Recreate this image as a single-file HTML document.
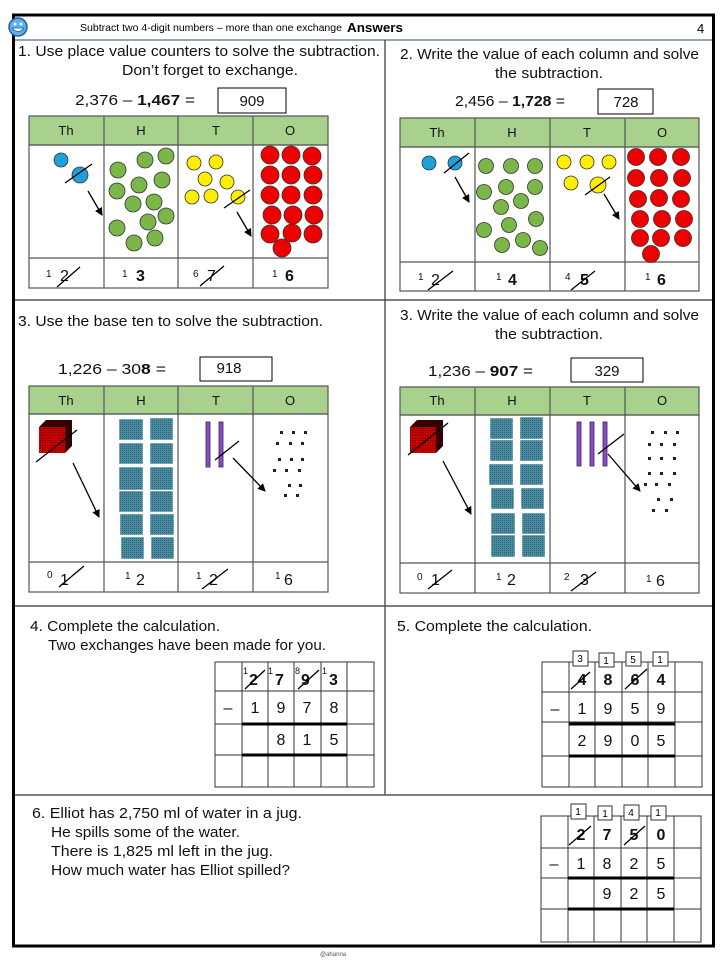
<!DOCTYPE html>
<html><head><meta charset="utf-8">
<style>
html,body{margin:0;padding:0;background:#fff;}
svg{display:block;font-family:"Liberation Sans",sans-serif;}
.t{font-size:15px;fill:#111;}
.h{font-size:13px;fill:#111;}
.n{font-size:15px;fill:#111;}
.g{font-size:16px;fill:#111;}
</style></head><body>
<svg width="720" height="960" viewBox="0 0 720 960" xmlns="http://www.w3.org/2000/svg">
<defs>
<marker id="ar" markerWidth="8" markerHeight="8" refX="7" refY="4" orient="auto" markerUnits="userSpaceOnUse"><path d="M0,0 L8,4 L0,8 z" fill="#000"/></marker>
<pattern id="grid" width="2" height="2" patternUnits="userSpaceOnUse"><rect width="2" height="2" fill="#4a8aa0"/><rect width="1" height="1" fill="#2e6478"/></pattern>
<pattern id="rgrid" width="2.5" height="2.5" patternUnits="userSpaceOnUse"><rect width="2.5" height="2.5" fill="#c00"/><rect width="1" height="1" fill="#400"/></pattern>
</defs>
<rect x="13.5" y="15" width="700" height="931" fill="none" stroke="#000" stroke-width="3"/>
<line x1="15" y1="40" x2="712" y2="40" stroke="#2c4a6a" stroke-width="1"/>
<line x1="385" y1="40" x2="385" y2="795" stroke="#333" stroke-width="1.2"/>
<line x1="15" y1="300" x2="712" y2="300" stroke="#333" stroke-width="1.2"/>
<line x1="15" y1="606" x2="712" y2="606" stroke="#555" stroke-width="1.5"/>
<line x1="15" y1="795" x2="712" y2="795" stroke="#555" stroke-width="1.5"/>
<circle cx="18" cy="27" r="9" fill="#5ab0e8" stroke="#1f5f9f" stroke-width="1.5"/>
<circle cx="15" cy="24" r="1.5" fill="#fff"/><circle cx="21" cy="24" r="1.5" fill="#fff"/>
<path d="M12,28 Q18,35 24,28 Z" fill="#fff" stroke="#1f5f9f" stroke-width="0.8"/>
<text x="80" y="31" style="font-size:10px" textLength="262" lengthAdjust="spacingAndGlyphs">Subtract two 4-digit numbers – more than one exchange</text>
<text x="347" y="32" style="font-size:12.5px;font-weight:bold" textLength="56" lengthAdjust="spacingAndGlyphs">Answers</text>
<text x="697" y="33" style="font-size:13px">4</text>

<!-- Q1 -->
<text x="18" y="56" class="t" textLength="362" lengthAdjust="spacingAndGlyphs">1.  Use place value counters to solve the subtraction.</text>
<text x="122" y="75" class="t" textLength="176" lengthAdjust="spacingAndGlyphs">Don’t forget to exchange.</text>
<text x="75" y="105" class="n" textLength="120" lengthAdjust="spacingAndGlyphs">2,376 – <tspan font-weight="bold">1,467</tspan> =</text>
<rect x="218" y="88" width="68" height="25" fill="#fff" stroke="#000"/>
<text x="252" y="106" class="n" text-anchor="middle">909</text>
<g stroke="#555" stroke-width="1.2">
<rect x="29" y="116" width="299" height="29" fill="#a9d18e"/>
<rect x="29" y="145" width="299" height="143" fill="none"/>
<line x1="29" y1="258" x2="328" y2="258"/>
<line x1="104" y1="116" x2="104" y2="288"/><line x1="178" y1="116" x2="178" y2="288"/><line x1="253" y1="116" x2="253" y2="288"/>
</g>
<g class="h" text-anchor="middle"><text x="66" y="135">Th</text><text x="141" y="135">H</text><text x="216" y="135">T</text><text x="290" y="135">O</text></g>
<g stroke="#333" stroke-width="0.8">
<circle cx="61" cy="160" r="7" fill="#1ea0dc"/><circle cx="80" cy="175" r="8" fill="#1ea0dc"/>
<g fill="#7ab648">
<circle cx="118" cy="170" r="8"/><circle cx="145" cy="160" r="8"/><circle cx="166" cy="156" r="8"/><circle cx="117" cy="191" r="8"/><circle cx="139" cy="185" r="8"/><circle cx="162" cy="180" r="8"/><circle cx="133" cy="204" r="8"/><circle cx="154" cy="202" r="8"/><circle cx="166" cy="216" r="8"/><circle cx="148" cy="222" r="8"/><circle cx="117" cy="228" r="8"/><circle cx="155" cy="238" r="8"/><circle cx="134" cy="243" r="8"/>
</g>
<g fill="#ffee00">
<circle cx="194" cy="163" r="7"/><circle cx="216" cy="162" r="7"/><circle cx="205" cy="179" r="7"/><circle cx="227" cy="182" r="7"/><circle cx="192" cy="197" r="7"/><circle cx="211" cy="196" r="7"/><circle cx="238" cy="197" r="7"/>
</g>
<g fill="#ee0000">
<circle cx="270" cy="155" r="9"/><circle cx="291" cy="155" r="9"/><circle cx="312" cy="156" r="9"/>
<circle cx="270" cy="175" r="9"/><circle cx="291" cy="175" r="9"/><circle cx="313" cy="175" r="9"/>
<circle cx="270" cy="195" r="9"/><circle cx="291" cy="195" r="9"/><circle cx="313" cy="195" r="9"/>
<circle cx="272" cy="215" r="9"/><circle cx="293" cy="215" r="9"/><circle cx="314" cy="215" r="9"/>
<circle cx="270" cy="234" r="9"/><circle cx="292" cy="233" r="9"/><circle cx="313" cy="234" r="9"/>
<circle cx="282" cy="248" r="9"/>
</g>
</g>
<g stroke="#000" stroke-width="1.3">
<line x1="65" y1="183" x2="92" y2="164"/><line x1="224" y1="208" x2="250" y2="190"/>
<line x1="88" y1="191" x2="102" y2="215" marker-end="url(#ar)"/>
<line x1="237" y1="212" x2="251" y2="236" marker-end="url(#ar)"/>
</g>
<g class="g"><text x="46" y="277" font-size="10">1</text><text x="60" y="281">2</text><text x="122" y="277" font-size="10">1</text><text x="136" y="281" font-weight="bold">3</text><text x="193" y="277" font-size="10">6</text><text x="207" y="281">7</text><text x="272" y="277" font-size="10">1</text><text x="285" y="281" font-weight="bold">6</text></g>
<g stroke="#000" stroke-width="1.3"><line x1="57" y1="287" x2="80" y2="267"/><line x1="200" y1="286" x2="224" y2="266"/></g>

<!-- Q2 -->
<text x="400" y="59" class="t" textLength="299" lengthAdjust="spacingAndGlyphs">2. Write the value of each column and solve</text>
<text x="495" y="78" class="t" textLength="108" lengthAdjust="spacingAndGlyphs">the subtraction.</text>
<text x="455" y="106" class="n" textLength="110" lengthAdjust="spacingAndGlyphs">2,456 – <tspan font-weight="bold">1,728</tspan> =</text>
<rect x="598" y="89" width="55" height="25" fill="#fff" stroke="#000"/>
<text x="626" y="107" class="n" text-anchor="middle">728</text>
<g stroke="#555" stroke-width="1.2">
<rect x="400" y="118" width="299" height="29" fill="#a9d18e"/>
<rect x="400" y="147" width="299" height="144" fill="none"/>
<line x1="400" y1="262" x2="699" y2="262"/>
<line x1="475" y1="118" x2="475" y2="291"/><line x1="550" y1="118" x2="550" y2="291"/><line x1="625" y1="118" x2="625" y2="291"/>
</g>
<g class="h" text-anchor="middle"><text x="437" y="137">Th</text><text x="512" y="137">H</text><text x="587" y="137">T</text><text x="662" y="137">O</text></g>
<g stroke="#333" stroke-width="0.8">
<circle cx="429" cy="163" r="7" fill="#1ea0dc"/><circle cx="455" cy="163" r="7" fill="#1ea0dc"/>
<g fill="#7ab648">
<circle cx="486" cy="166" r="7.5"/><circle cx="511" cy="166" r="7.5"/><circle cx="535" cy="166" r="7.5"/><circle cx="484" cy="192" r="7.5"/><circle cx="506" cy="187" r="7.5"/><circle cx="535" cy="187" r="7.5"/><circle cx="501" cy="207" r="7.5"/><circle cx="521" cy="201" r="7.5"/><circle cx="484" cy="230" r="7.5"/><circle cx="509" cy="225" r="7.5"/><circle cx="536" cy="219" r="7.5"/><circle cx="502" cy="245" r="7.5"/><circle cx="523" cy="240" r="7.5"/><circle cx="540" cy="248" r="7.5"/>
</g>
<g fill="#ffee00">
<circle cx="564" cy="162" r="7"/><circle cx="587" cy="162" r="7"/><circle cx="609" cy="162" r="7"/><circle cx="571" cy="183" r="7"/><circle cx="598" cy="185" r="8"/>
</g>
<g fill="#ee0000">
<circle cx="636" cy="157" r="8.5"/><circle cx="658" cy="157" r="8.5"/><circle cx="681" cy="157" r="8.5"/>
<circle cx="636" cy="178" r="8.5"/><circle cx="659" cy="178" r="8.5"/><circle cx="682" cy="178" r="8.5"/>
<circle cx="638" cy="199" r="8.5"/><circle cx="659" cy="198" r="8.5"/><circle cx="681" cy="199" r="8.5"/>
<circle cx="640" cy="219" r="8.5"/><circle cx="662" cy="219" r="8.5"/><circle cx="684" cy="219" r="8.5"/>
<circle cx="640" cy="238" r="8.5"/><circle cx="661" cy="238" r="8.5"/><circle cx="683" cy="238" r="8.5"/>
<circle cx="651" cy="254" r="8.5"/>
</g>
</g>
<g stroke="#000" stroke-width="1.3">
<line x1="444" y1="173" x2="469" y2="153"/><line x1="585" y1="195" x2="610" y2="177"/>
<line x1="455" y1="177" x2="469" y2="202" marker-end="url(#ar)"/>
<line x1="604" y1="194" x2="619" y2="219" marker-end="url(#ar)"/>
</g>
<g class="g"><text x="418" y="280" font-size="10">1</text><text x="431" y="285">2</text><text x="496" y="280" font-size="10">1</text><text x="508" y="285" font-weight="bold">4</text><text x="565" y="280" font-size="10">4</text><text x="580" y="285" font-weight="bold">5</text><text x="645" y="280" font-size="10">1</text><text x="657" y="285" font-weight="bold">6</text></g>
<g stroke="#000" stroke-width="1.3"><line x1="428" y1="290" x2="453" y2="271"/><line x1="571" y1="290" x2="595" y2="271"/></g>

<!-- Q3 left -->
<text x="18" y="326" class="t" textLength="305" lengthAdjust="spacingAndGlyphs">3. Use the base ten to solve the subtraction.</text>
<text x="58" y="374" class="n" textLength="108" lengthAdjust="spacingAndGlyphs">1,226 –  30<tspan font-weight="bold">8</tspan> =</text>
<rect x="200" y="357" width="72" height="24" fill="#fff" stroke="#000"/>
<text x="229" y="373" class="n" text-anchor="middle">918</text>
<g stroke="#555" stroke-width="1.2">
<rect x="29" y="386" width="299" height="28" fill="#a9d18e"/>
<rect x="29" y="414" width="299" height="178" fill="none"/>
<line x1="29" y1="562" x2="328" y2="562"/>
<line x1="104" y1="386" x2="104" y2="592"/><line x1="178" y1="386" x2="178" y2="592"/><line x1="253" y1="386" x2="253" y2="592"/>
</g>
<g class="h" text-anchor="middle"><text x="66" y="405">Th</text><text x="141" y="405">H</text><text x="216" y="405">T</text><text x="290" y="405">O</text></g>
<path d="M39,427 L46,420 L72,420 L72,446 L65,453 Z" fill="#300"/>
<rect x="39" y="427" width="26" height="26" fill="url(#rgrid)"/>
<g fill="url(#grid)" stroke="#fff" stroke-width="0.5">
<rect x="119" y="419" width="24" height="21"/><rect x="150" y="418" width="23" height="22"/>
<rect x="119" y="443" width="24" height="21"/><rect x="150" y="443" width="23" height="21"/>
<rect x="119" y="467" width="24" height="23"/><rect x="150" y="467" width="23" height="23"/>
<rect x="119" y="491" width="24" height="21"/><rect x="150" y="491" width="23" height="21"/>
<rect x="120" y="514" width="23" height="21"/><rect x="150" y="514" width="24" height="21"/>
<rect x="121" y="537" width="23" height="22"/><rect x="151" y="537" width="23" height="22"/>
</g>
<g fill="#8a4fc0" stroke="#3a1a60" stroke-width="0.8"><rect x="206" y="422" width="4" height="45"/><rect x="219" y="422" width="4" height="45"/></g>
<g fill="#222">
<rect x="280" y="431" width="3" height="3"/><rect x="292" y="431" width="3" height="3"/><rect x="304" y="431" width="3" height="3"/>
<rect x="276" y="442" width="3" height="3"/><rect x="289" y="442" width="3" height="3"/><rect x="301" y="442" width="3" height="3"/>
<rect x="278" y="458" width="3" height="3"/><rect x="290" y="458" width="3" height="3"/><rect x="301" y="458" width="3" height="3"/>
<rect x="273" y="469" width="3" height="3"/><rect x="285" y="469" width="3" height="3"/><rect x="298" y="469" width="3" height="3"/>
<rect x="288" y="484" width="3" height="3"/><rect x="299" y="484" width="3" height="3"/>
<rect x="284" y="494" width="3" height="3"/><rect x="296" y="494" width="3" height="3"/>
</g>
<g stroke="#000" stroke-width="1.3">
<line x1="36" y1="462" x2="77" y2="430"/><line x1="215" y1="460" x2="239" y2="441"/>
<line x1="73" y1="463" x2="99" y2="517" marker-end="url(#ar)"/>
<line x1="233" y1="458" x2="265" y2="491" marker-end="url(#ar)"/>
</g>
<g class="g"><text x="47" y="578" font-size="10">0</text><text x="60" y="585">1</text><text x="125" y="579" font-size="10">1</text><text x="136" y="585">2</text><text x="196" y="579" font-size="10">1</text><text x="209" y="585">2</text><text x="275" y="579" font-size="10">1</text><text x="284" y="585">6</text></g>
<g stroke="#000" stroke-width="1.3"><line x1="59" y1="587" x2="84" y2="566"/><line x1="202" y1="589" x2="228" y2="569"/></g>

<!-- Q3 right -->
<text x="400" y="320" class="t" textLength="299" lengthAdjust="spacingAndGlyphs">3. Write the value of each column and solve</text>
<text x="495" y="339" class="t" textLength="108" lengthAdjust="spacingAndGlyphs">the subtraction.</text>
<text x="428" y="376" class="n" textLength="105" lengthAdjust="spacingAndGlyphs">1,236 – <tspan font-weight="bold">907</tspan> =</text>
<rect x="571" y="358" width="72" height="24" fill="#fff" stroke="#000"/>
<text x="607" y="376" class="n" text-anchor="middle">329</text>
<g stroke="#555" stroke-width="1.2">
<rect x="400" y="387" width="299" height="28" fill="#a9d18e"/>
<rect x="400" y="415" width="299" height="178" fill="none"/>
<line x1="400" y1="563" x2="699" y2="563"/>
<line x1="475" y1="387" x2="475" y2="593"/><line x1="550" y1="387" x2="550" y2="593"/><line x1="625" y1="387" x2="625" y2="593"/>
</g>
<g class="h" text-anchor="middle"><text x="437" y="405">Th</text><text x="512" y="405">H</text><text x="587" y="405">T</text><text x="662" y="405">O</text></g>
<path d="M410,427 L417,420 L443,420 L443,446 L436,453 Z" fill="#300"/>
<rect x="410" y="427" width="26" height="26" fill="url(#rgrid)"/>
<g fill="url(#grid)" stroke="#fff" stroke-width="0.5">
<rect x="490" y="418" width="23" height="21"/><rect x="520" y="417" width="23" height="22"/>
<rect x="490" y="440" width="23" height="21"/><rect x="520" y="440" width="23" height="21"/>
<rect x="489" y="464" width="24" height="21"/><rect x="520" y="464" width="23" height="21"/>
<rect x="491" y="488" width="23" height="21"/><rect x="521" y="488" width="23" height="21"/>
<rect x="491" y="513" width="24" height="21"/><rect x="522" y="513" width="23" height="21"/>
<rect x="491" y="535" width="24" height="22"/><rect x="522" y="535" width="23" height="22"/>
</g>
<g fill="#8a4fc0" stroke="#3a1a60" stroke-width="0.8"><rect x="577" y="422" width="4" height="44"/><rect x="590" y="422" width="4" height="44"/><rect x="603" y="422" width="4" height="44"/></g>
<g fill="#222">
<rect x="651" y="431" width="3" height="3"/><rect x="664" y="431" width="3" height="3"/><rect x="676" y="431" width="3" height="3"/>
<rect x="648" y="443" width="3" height="3"/><rect x="660" y="443" width="3" height="3"/><rect x="673" y="443" width="3" height="3"/>
<rect x="648" y="457" width="3" height="3"/><rect x="660" y="457" width="3" height="3"/><rect x="673" y="457" width="3" height="3"/>
<rect x="648" y="472" width="3" height="3"/><rect x="660" y="472" width="3" height="3"/><rect x="673" y="472" width="3" height="3"/>
<rect x="644" y="483" width="3" height="3"/><rect x="655" y="483" width="3" height="3"/><rect x="668" y="483" width="3" height="3"/>
<rect x="657" y="498" width="3" height="3"/><rect x="670" y="498" width="3" height="3"/>
<rect x="652" y="509" width="3" height="3"/><rect x="665" y="509" width="3" height="3"/>
</g>
<g stroke="#000" stroke-width="1.3">
<line x1="408" y1="455" x2="448" y2="423"/><line x1="598" y1="454" x2="624" y2="434"/>
<line x1="443" y1="461" x2="471" y2="514" marker-end="url(#ar)"/>
<line x1="608" y1="454" x2="640" y2="491" marker-end="url(#ar)"/>
</g>
<g class="g"><text x="417" y="580" font-size="10">0</text><text x="431" y="585">1</text><text x="496" y="580" font-size="10">1</text><text x="507" y="585">2</text><text x="564" y="580" font-size="10">2</text><text x="580" y="585">3</text><text x="646" y="582" font-size="10">1</text><text x="656" y="586">6</text></g>
<g stroke="#000" stroke-width="1.3"><line x1="428" y1="589" x2="452" y2="570"/><line x1="571" y1="591" x2="596" y2="572"/></g>

<!-- Q4 -->
<text x="30" y="631" class="t" textLength="190" lengthAdjust="spacingAndGlyphs">4. Complete the calculation.</text>
<text x="48" y="650" class="t" textLength="278" lengthAdjust="spacingAndGlyphs">Two exchanges have been made for you.</text>
<g stroke="#333" stroke-width="1">
<rect x="215" y="662" width="159" height="125" fill="none"/>
<line x1="215" y1="691" x2="374" y2="691"/><line x1="215" y1="724" x2="374" y2="724"/><line x1="215" y1="755" x2="374" y2="755"/>
<line x1="242" y1="662" x2="242" y2="787"/><line x1="268" y1="662" x2="268" y2="787"/><line x1="294" y1="662" x2="294" y2="787"/><line x1="321" y1="662" x2="321" y2="787"/><line x1="347" y1="662" x2="347" y2="787"/>
</g>
<g stroke="#000" stroke-width="3"><line x1="242" y1="724" x2="347" y2="724"/><line x1="242" y1="755" x2="347" y2="755"/></g>
<g class="g" font-weight="bold">
<text x="243" y="674" font-size="9" font-weight="normal">1</text><text x="249" y="685">2</text>
<text x="268" y="674" font-size="9" font-weight="normal">1</text><text x="275" y="685">7</text>
<text x="295" y="674" font-size="9" font-weight="normal">8</text><text x="301" y="685">9</text>
<text x="322" y="674" font-size="9" font-weight="normal">1</text><text x="329" y="685">3</text>
</g>
<g stroke="#000" stroke-width="1.3"><line x1="245" y1="689" x2="265" y2="670"/><line x1="298" y1="689" x2="319" y2="670"/></g>
<g class="g" text-anchor="middle">
<text x="228" y="713">–</text><text x="255" y="713">1</text><text x="281" y="713">9</text><text x="307" y="713">7</text><text x="334" y="713">8</text>
<text x="281" y="745">8</text><text x="307" y="745">1</text><text x="334" y="745">5</text>
</g>

<!-- Q5 -->
<text x="397" y="631" class="t" textLength="195" lengthAdjust="spacingAndGlyphs">5. Complete  the calculation.</text>
<g stroke="#333" stroke-width="1">
<rect x="542" y="662" width="160" height="125" fill="none"/>
<line x1="542" y1="692" x2="702" y2="692"/><line x1="542" y1="722" x2="702" y2="722"/><line x1="542" y1="756" x2="702" y2="756"/>
<line x1="569" y1="662" x2="569" y2="787"/><line x1="595" y1="662" x2="595" y2="787"/><line x1="622" y1="662" x2="622" y2="787"/><line x1="648" y1="662" x2="648" y2="787"/><line x1="675" y1="662" x2="675" y2="787"/>
</g>
<g stroke="#000" stroke-width="3"><line x1="569" y1="724" x2="675" y2="724"/><line x1="569" y1="756" x2="675" y2="756"/></g>
<g fill="#fff" stroke="#333" stroke-width="1"><rect x="573" y="651" width="15" height="15"/><rect x="599" y="653" width="15" height="14"/><rect x="626" y="652" width="15" height="14"/><rect x="653" y="652" width="15" height="14"/></g>
<g font-size="10" text-anchor="middle"><text x="580" y="662">3</text><text x="606" y="664">1</text><text x="633" y="663">5</text><text x="660" y="663">1</text></g>
<g class="g" font-weight="bold" text-anchor="middle"><text x="582" y="685">4</text><text x="608" y="685">8</text><text x="635" y="685">6</text><text x="661" y="685">4</text></g>
<g stroke="#000" stroke-width="1.3"><line x1="571" y1="689" x2="590" y2="672"/><line x1="625" y1="689" x2="647" y2="669"/></g>
<g class="g" text-anchor="middle">
<text x="555" y="714">–</text><text x="582" y="714">1</text><text x="608" y="714">9</text><text x="635" y="714">5</text><text x="661" y="714">9</text>
<text x="582" y="746">2</text><text x="608" y="746">9</text><text x="635" y="746">0</text><text x="661" y="746">5</text>
</g>

<!-- Q6 -->
<text x="32" y="818" class="t" textLength="270" lengthAdjust="spacingAndGlyphs">6. Elliot has 2,750 ml of water in a jug.</text>
<text x="51" y="837" class="t" textLength="189" lengthAdjust="spacingAndGlyphs">He spills some of the water.</text>
<text x="51" y="856" class="t" textLength="222" lengthAdjust="spacingAndGlyphs">There is 1,825 ml left in the jug.</text>
<text x="51" y="875" class="t" textLength="239" lengthAdjust="spacingAndGlyphs">How much water has Elliot spilled?</text>
<g stroke="#333" stroke-width="1">
<rect x="541" y="816" width="160" height="126" fill="none"/>
<line x1="541" y1="848" x2="701" y2="848"/><line x1="541" y1="878" x2="701" y2="878"/><line x1="541" y1="909" x2="701" y2="909"/>
<line x1="568" y1="816" x2="568" y2="942"/><line x1="594" y1="816" x2="594" y2="942"/><line x1="621" y1="816" x2="621" y2="942"/><line x1="647" y1="816" x2="647" y2="942"/><line x1="674" y1="816" x2="674" y2="942"/>
</g>
<g stroke="#000" stroke-width="3"><line x1="568" y1="878" x2="674" y2="878"/><line x1="568" y1="909" x2="674" y2="909"/></g>
<g fill="#fff" stroke="#333" stroke-width="1"><rect x="571" y="804" width="15" height="15"/><rect x="598" y="806" width="14" height="14"/><rect x="624" y="805" width="15" height="15"/><rect x="651" y="806" width="15" height="14"/></g>
<g font-size="10" text-anchor="middle"><text x="578" y="815">1</text><text x="605" y="817">1</text><text x="631" y="816">4</text><text x="658" y="816">1</text></g>
<g class="g" font-weight="bold" text-anchor="middle"><text x="581" y="840">2</text><text x="607" y="840">7</text><text x="634" y="840">5</text><text x="661" y="840">0</text></g>
<g stroke="#000" stroke-width="1.3"><line x1="569" y1="845" x2="591" y2="826"/><line x1="624" y1="845" x2="645" y2="826"/></g>
<g class="g" text-anchor="middle">
<text x="554" y="869">–</text><text x="581" y="869">1</text><text x="607" y="869">8</text><text x="634" y="869">2</text><text x="661" y="869">5</text>
<text x="607" y="899">9</text><text x="634" y="899">2</text><text x="661" y="899">5</text>
</g>

<text x="320" y="956" style="font-size:6px;fill:#555">@ahanna</text>
</svg>
</body></html>
